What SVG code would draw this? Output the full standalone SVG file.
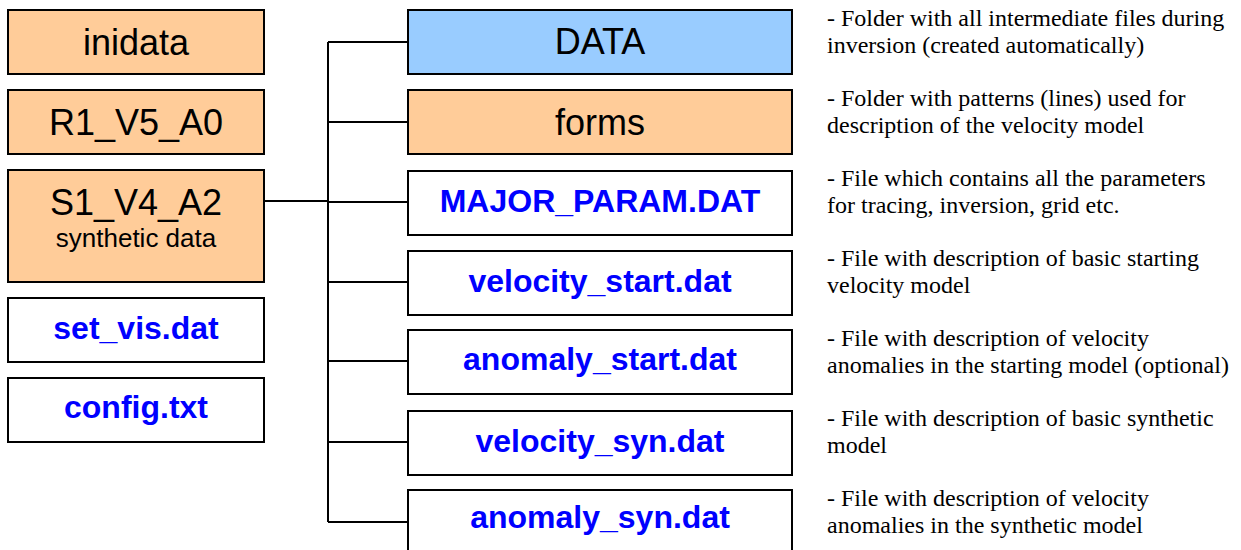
<svg xmlns="http://www.w3.org/2000/svg" width="1241" height="550" viewBox="0 0 1241 550">
  <style>
    .box { stroke: #000; stroke-width: 2; }
    .folder { fill: #FFCC99; }
    .auto { fill: #99CCFF; }
    .file { fill: #FFFFFF; }
    .big { font-family: "Liberation Sans", Arial, sans-serif; font-size: 36px; fill: #000; text-anchor: middle; }
    .sub { font-family: "Liberation Sans", Arial, sans-serif; font-size: 26px; fill: #000; text-anchor: middle; }
    .fname { font-family: "Liberation Sans", Arial, sans-serif; font-size: 32px; font-weight: bold; fill: #0000FF; text-anchor: middle; }
    .note { font-family: "Liberation Serif", "Times New Roman", serif; font-size: 24px; fill: #000; }
    .wire { stroke: #000; stroke-width: 2; fill: none; }
  </style>
  <rect width="1241" height="550" fill="#FFFFFF"/>

  <!-- connectors: tree from S1_V4_A2 to its contents -->
  <g id="connectors">
    <path class="wire" d="M264,201 H328"/>
    <path class="wire" d="M328,42 V522"/>
    <path class="wire" d="M328,42 H407 M328,122 H407 M328,202 H407 M328,282 H407 M328,361 H407 M328,442 H407 M328,522 H407"/>
  </g>

  <!-- left column -->
  <g id="inidata">
    <rect class="box folder" x="8" y="10" width="256" height="64"/>
    <text class="big" x="136" y="55">inidata</text>
  </g>
  <g id="R1_V5_A0">
    <rect class="box folder" x="8" y="90" width="256" height="64"/>
    <text class="big" x="136" y="135">R1_V5_A0</text>
  </g>
  <g id="S1_V4_A2">
    <rect class="box folder" x="8" y="170" width="256" height="112"/>
    <text class="big" x="136" y="215">S1_V4_A2</text>
    <text class="sub" x="136" y="247">synthetic data</text>
  </g>
  <g id="set_vis">
    <rect class="box file" x="8" y="298" width="256" height="64"/>
    <text class="fname" x="136" y="339">set_vis.dat</text>
  </g>
  <g id="config">
    <rect class="box file" x="8" y="378" width="256" height="64"/>
    <text class="fname" x="136" y="418">config.txt</text>
  </g>

  <!-- right column: contents of S1_V4_A2 -->
  <g id="DATA">
    <rect class="box auto" x="408" y="10" width="384" height="64"/>
    <text class="big" x="600" y="54">DATA</text>
  </g>
  <g id="forms">
    <rect class="box folder" x="408" y="90" width="384" height="64"/>
    <text class="big" x="600" y="135">forms</text>
  </g>
  <g id="MAJOR_PARAM">
    <rect class="box file" x="408" y="171" width="384" height="64"/>
    <text class="fname" x="600" y="212">MAJOR_PARAM.DAT</text>
  </g>
  <g id="velocity_start">
    <rect class="box file" x="408" y="251" width="384" height="64"/>
    <text class="fname" x="600" y="292">velocity_start.dat</text>
  </g>
  <g id="anomaly_start">
    <rect class="box file" x="408" y="330" width="384" height="64"/>
    <text class="fname" x="600" y="370">anomaly_start.dat</text>
  </g>
  <g id="velocity_syn">
    <rect class="box file" x="408" y="411" width="384" height="64"/>
    <text class="fname" x="600" y="452">velocity_syn.dat</text>
  </g>
  <g id="anomaly_syn">
    <rect class="box file" x="408" y="490" width="384" height="64"/>
    <text class="fname" x="600" y="528">anomaly_syn.dat</text>
  </g>

  <!-- descriptions -->
  <g id="notes">
    <text class="note" x="827" y="26">- Folder with all intermediate files during</text>
    <text class="note" x="827" y="53">inversion (created automatically)</text>
    <text class="note" x="827" y="106">- Folder with patterns (lines) used for</text>
    <text class="note" x="827" y="133">description of the velocity model</text>
    <text class="note" x="827" y="186">- File which contains all the parameters</text>
    <text class="note" x="827" y="213">for tracing, inversion, grid etc.</text>
    <text class="note" x="827" y="266">- File with description of basic starting</text>
    <text class="note" x="827" y="293">velocity model</text>
    <text class="note" x="827" y="346">- File with description of velocity</text>
    <text class="note" x="827" y="373">anomalies in the starting model (optional)</text>
    <text class="note" x="827" y="426">- File with description of basic synthetic</text>
    <text class="note" x="827" y="453">model</text>
    <text class="note" x="827" y="506">- File with description of velocity</text>
    <text class="note" x="827" y="533">anomalies in the synthetic model</text>
  </g>
</svg>
